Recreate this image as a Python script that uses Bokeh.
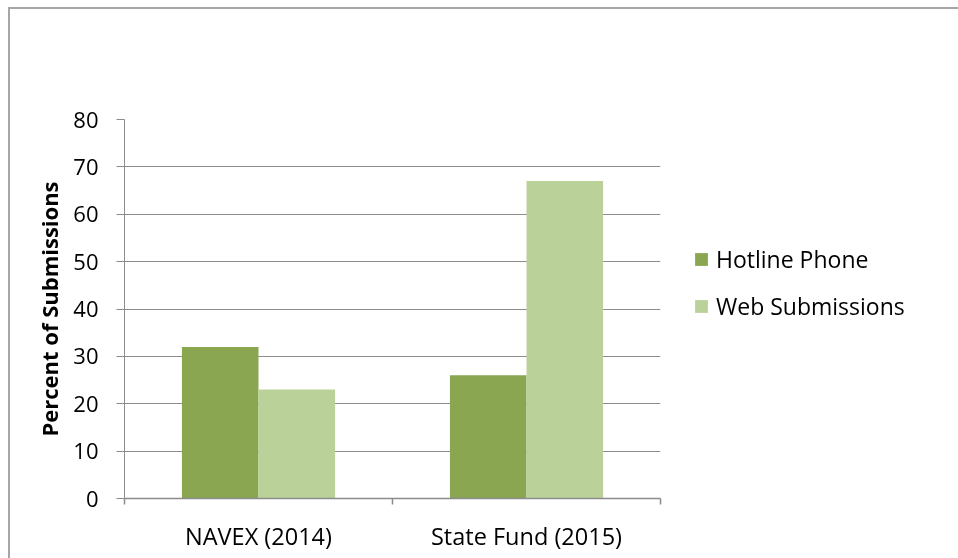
from bokeh.plotting import figure
from bokeh.layouts import column
from bokeh.models import Range1d, FixedTicker, ColumnDataSource, Legend, LegendItem
from bokeh.transform import dodge
from bokeh.embed import file_html
from bokeh.resources import INLINE

categories = ["NAVEX (2014)", "State Fund (2015)"]
hotline = [32, 26]
web = [23, 67]
series_names = ["Hotline Phone", "Web Submissions"]
y_ticks = [0, 10, 20, 30, 40, 50, 60, 70, 80]

FONT = "Open Sans"
GRID = "#8c8c8c"
FRAME = "#a6a6a6"
C_HOT = "#8aa650"
C_WEB = "#bbd19a"

xs = [i + 0.5 for i in range(len(categories))]
src = ColumnDataSource(dict(x=xs, hotline=hotline, web=web))
bw = 1 / 3.5

p = figure(output_backend="svg", toolbar_location=None,
           frame_width=536, frame_height=379,
           min_border_left=124, min_border_top=119,
           min_border_right=298, min_border_bottom=60,
           x_range=Range1d(0, len(categories)), y_range=Range1d(0, 80))
p.outline_line_color = None
p.background_fill_color = "white"
p.border_fill_color = None

r1 = p.vbar(x=dodge("x", -bw / 2, range=p.x_range), top="hotline", width=bw,
            source=src, fill_color=C_HOT, line_color=None)
r2 = p.vbar(x=dodge("x", bw / 2, range=p.x_range), top="web", width=bw,
            source=src, fill_color=C_WEB, line_color=None)

# y axis
ya = p.yaxis[0]
ya.ticker = FixedTicker(ticks=y_ticks, minor_ticks=[])
ya.axis_line_color = GRID
ya.major_tick_line_color = GRID
ya.major_tick_out = 8
ya.major_tick_in = 0
ya.minor_tick_line_color = None
ya.major_label_standoff = 18
ya.major_label_text_font = FONT
ya.major_label_text_font_size = "22px"
ya.major_label_text_color = "black"
ya.axis_label = "Percent of Submissions"
ya.axis_label_text_font = FONT
ya.axis_label_text_font_style = "bold"
ya.axis_label_text_font_size = "22px"
ya.axis_label_text_color = "black"
ya.axis_label_standoff = 6

# x axis
xa = p.xaxis[0]
xa.ticker = FixedTicker(ticks=xs, minor_ticks=list(range(len(categories) + 1)))
xa.major_label_overrides = {x: c for x, c in zip(xs, categories)}
xa.axis_line_color = GRID
xa.axis_line_width = 1.5
xa.major_tick_line_color = None
xa.minor_tick_line_color = GRID
xa.minor_tick_line_width = 1.5
xa.minor_tick_out = 6
xa.minor_tick_in = 0
xa.major_label_standoff = 15
xa.major_label_text_font = FONT
xa.major_label_text_font_size = "23.5px"
xa.major_label_text_color = "black"

p.xgrid.grid_line_color = None
p.ygrid.ticker = FixedTicker(ticks=y_ticks)
p.ygrid.grid_line_color = GRID
p.ygrid.grid_line_width = 1

legend = Legend(items=[LegendItem(label=series_names[0], renderers=[r1]),
                       LegendItem(label=series_names[1], renderers=[r2])],
                location=(33, 176))
legend.border_line_color = None
legend.background_fill_alpha = 0
legend.label_text_font = FONT
legend.label_text_font_size = "23px"
legend.label_text_color = "black"
legend.glyph_width = 16
legend.glyph_height = 16
legend.label_standoff = 7
legend.spacing = 15
legend.padding = 10
legend.margin = 0
p.add_layout(legend, "right")

g = f"linear-gradient({FRAME},{FRAME})"
layout = column(p, styles={
    "position": "fixed", "top": "0px", "left": "0px",
    "background": f"{g} 9px 7px / 2000px 2px no-repeat, {g} 8px 7px / 2px 2000px no-repeat"})

open("out.html", "w").write(file_html(layout, INLINE))
